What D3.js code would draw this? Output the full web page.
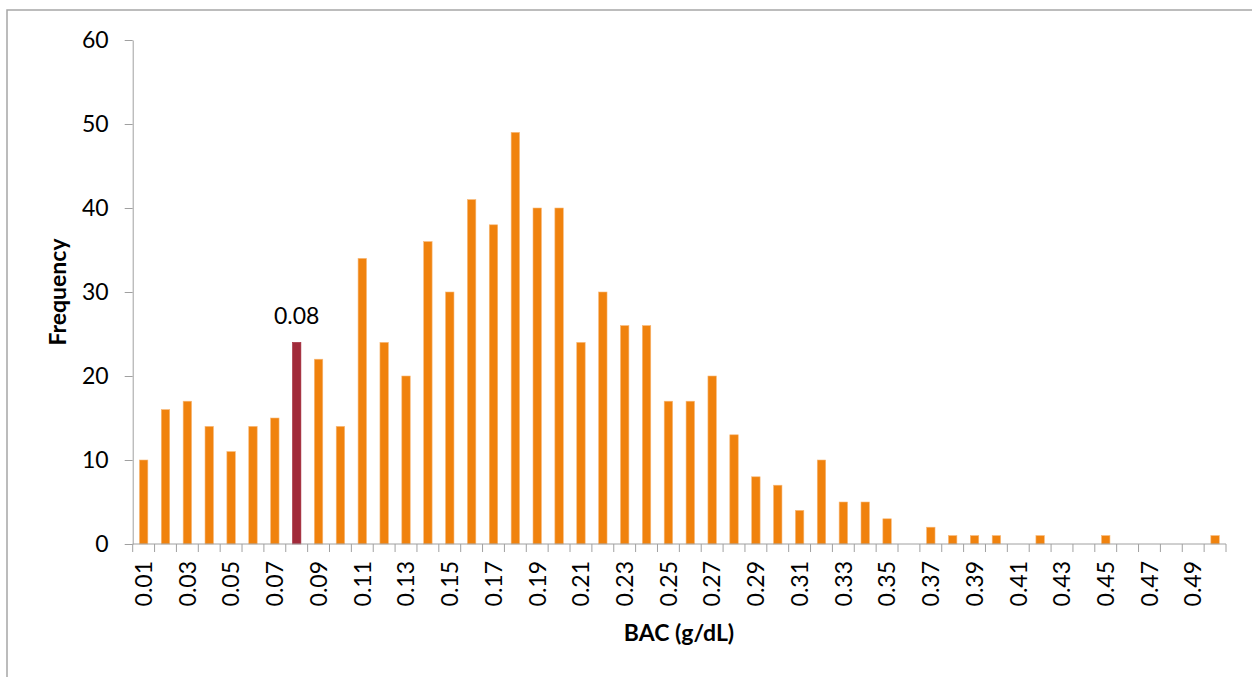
<!DOCTYPE html>
<html>
<head>
<meta charset="utf-8">
<script src="https://cdn.jsdelivr.net/npm/d3@7"></script>
<style>
html, body { margin: 0; padding: 0; background: #fff; }
svg { display: block; }
text { font-family: Lato, "Open Sans", sans-serif; fill: #000; }
</style>
</head>
<body>
<svg id="chart" width="1252" height="677"></svg>
<script>
const categories = ["0.01","0.02","0.03","0.04","0.05","0.06","0.07","0.08","0.09","0.10",
  "0.11","0.12","0.13","0.14","0.15","0.16","0.17","0.18","0.19","0.20",
  "0.21","0.22","0.23","0.24","0.25","0.26","0.27","0.28","0.29","0.30",
  "0.31","0.32","0.33","0.34","0.35","0.36","0.37","0.38","0.39","0.40",
  "0.41","0.42","0.43","0.44","0.45","0.46","0.47","0.48","0.49","0.50"];
const frequency = [10,16,17,14,11,14,15,24,22,14,
  34,24,20,36,30,41,38,49,40,40,
  24,30,26,26,17,17,20,13,8,7,
  4,10,5,5,3,0,2,1,1,1,
  0,1,0,0,1,0,0,0,0,1];
const xTickLabels = ["0.01","0.03","0.05","0.07","0.09","0.11","0.13","0.15","0.17","0.19",
  "0.21","0.23","0.25","0.27","0.29","0.31","0.33","0.35","0.37","0.39",
  "0.41","0.43","0.45","0.47","0.49"];
const yTicks = [0,10,20,30,40,50,60];
const highlight = "0.08";

(function () {
const svg = d3.select("#chart");
const mLeft = 132.7, mRight = 1226, mTop = 40, mBottom = 544;

svg.append("rect").attr("x", 7).attr("y", 10).attr("width", 1300).attr("height", 700)
  .attr("fill", "none").attr("stroke", "#a6a6a6").attr("stroke-width", 1.5);

const x = d3.scaleBand().domain(categories).range([mLeft, mRight]).padding(0);
const y = d3.scaleLinear().domain([0, 60]).range([mBottom, mTop]);
const bw = x.bandwidth() * 0.385;
const axisColor = "#a0a0a0";

const yAxis = svg.append("g").attr("transform", `translate(${mLeft},0)`)
  .call(d3.axisLeft(y).tickValues(yTicks).tickSize(8).tickPadding(16).tickSizeOuter(0));
yAxis.select(".domain").attr("stroke", axisColor);
yAxis.selectAll(".tick line").attr("stroke", axisColor);
yAxis.selectAll("text").style("font-size", "23px").style("font-family", "Lato").attr("fill", "#000");

svg.append("g").selectAll("rect").data(categories).join("rect")
  .attr("x", (d) => x(d) + (x.bandwidth() - bw) / 2)
  .attr("y", (d, i) => y(frequency[i]))
  .attr("width", bw)
  .attr("height", (d, i) => y(0) - y(frequency[i]))
  .attr("fill", (d) => d === highlight ? "#a12a3a" : "#f0820d")
  .attr("stroke", (d) => d === highlight ? "#a12a3a" : "#f7b877")
  .attr("stroke-width", 0.6);

const xAxisG = svg.append("g").attr("transform", `translate(0,${mBottom})`);
xAxisG.append("line").attr("x1", mLeft).attr("x2", mRight).attr("y1", 0).attr("y2", 0)
  .attr("stroke", axisColor);
const boundaries = categories.map((d) => x(d)).concat([x(categories[categories.length - 1]) + x.bandwidth()]);
xAxisG.selectAll("line.tk").data(boundaries).join("line").attr("class", "tk")
  .attr("x1", (d) => d).attr("x2", (d) => d).attr("y1", 0).attr("y2", 8)
  .attr("stroke", axisColor);
xAxisG.selectAll("text").data(xTickLabels).join("text")
  .attr("transform", (d) => `translate(${x(d) + x.bandwidth() / 2},${17}) rotate(-90)`)
  .attr("text-anchor", "end")
  .attr("dy", "0.36em")
  .style("font-size", "23px")
  .text((d) => d);

const hi = categories.indexOf(highlight);
svg.append("text")
  .attr("x", x(highlight) + x.bandwidth() / 2)
  .attr("y", y(frequency[hi]) - 18)
  .attr("text-anchor", "middle")
  .style("font-size", "23px")
  .text(highlight);

svg.append("text")
  .attr("transform", `translate(66,292) rotate(-90)`)
  .attr("text-anchor", "middle")
  .style("font-size", "23px").style("font-weight", "bold")
  .text("Frequency");
svg.append("text")
  .attr("x", 679).attr("y", 641)
  .attr("text-anchor", "middle")
  .style("font-size", "23px").style("font-weight", "bold")
  .text("BAC (g/dL)");
})();
</script>
</body>
</html>
